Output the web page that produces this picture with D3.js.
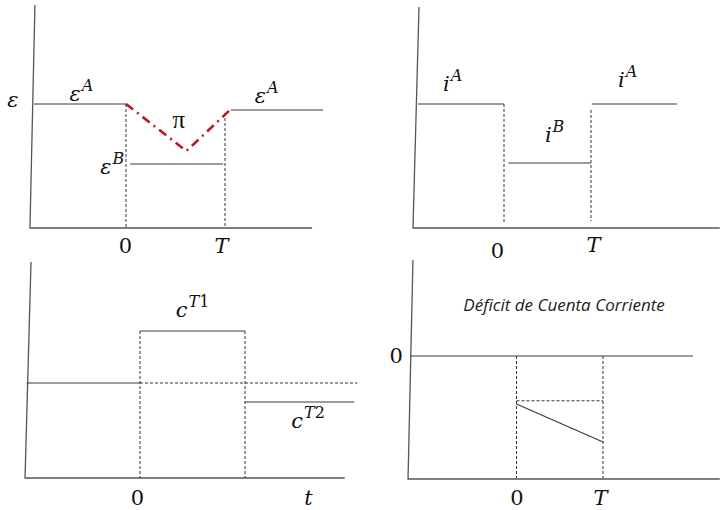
<!DOCTYPE html>
<html>
<head>
<meta charset="utf-8">
<script src="https://cdn.jsdelivr.net/npm/d3@7"></script>
<style>
  body { margin: 0; background: #fff; }
  svg { display: block; }
  .ax { fill: none; stroke: #555; stroke-width: 1.3; }
  .lvl { fill: none; stroke: #3a3a3a; stroke-width: 1.2; }
  .guide { fill: none; stroke: #333; stroke-width: 1; stroke-dasharray: 3,2; }
  .pi { fill: none; stroke: #be1622; stroke-width: 2.6; stroke-dasharray: 9,5,2,5; }
  .math { font-family: "DejaVu Serif", serif; font-style: italic; font-size: 21px; fill: #111; }
  .num { font-family: "DejaVu Serif", serif; font-style: normal; font-size: 21px; fill: #111; }
  .big { font-family: "Liberation Serif", serif; font-size: 25px; }
  .sup { font-size: 16px; }
  .title { font-family: "Open Sans", sans-serif; font-style: italic; font-size: 17px; fill: #222; }
</style>
</head>
<body>
<svg id="chart" width="720" height="510"></svg>
<script>
// all values are [t, level]; t = 0 is the shock, t = 1 is T

// tipo de cambio real
const epsAxes = [[-0.92, 11.15], [-0.97, 0], [1.88, 0]];
const epsLeft = [[-0.93, 6.2], [0, 6.2]];
const epsRight = [[1.06, 5.9], [1.99, 5.9]];
const epsB = [[0.04, 3.2], [0.98, 3.2]];
const piPath = [[0, 6.2], [0.61, 3.85], [1.05, 5.9]];
const epsGuides = [[[0, 6.2], [0, 0]], [[1, 5.75], [1, 0]]];
const epsTicks = [0, 1];
const epsTickLabels = ["0", "T"];

// tasa de interes
const iAxes = [[-0.977, 11.05], [-1.046, 0], [2.48, 0]];
const iLeft = [[-0.99, 6.2], [0, 6.2]];
const iB = [[0.05, 3.25], [1, 3.25]];
const iRight = [[1.01, 6.2], [1.99, 6.2]];
const iGuides = [[[0, 6.2], [0, 0.25]], [[1, 5.9], [1, 0.35]]];
const iTicks = [0, 1];
const iTickLabels = ["0", "T"];

// consumo de transables
const cAxes = [[-1.038, 10.8], [-1.095, 0], [1.95, 0]];
const cBase = [[-1.08, 4.75], [0, 4.75]];
const cBaseDashed = [[0, 4.75], [2.07, 4.75]];
const cT1 = [[0, 7.35], [1, 7.35]];
const cT2 = [[1, 3.8], [2.04, 3.8]];
const cGuides = [[[0, 7.35], [0, 0]], [[1, 7.35], [1, 0]]];
const cTicks = [0, 1.6];
const cTickLabels = ["0", "t"];

// deficit de cuenta corriente
const caAxes = [[-1.197, 4.8], [-1.254, -6.15], [2.35, -6.15]];
const caZero = [[-1.23, 0], [2.04, 0]];
const caDashed = [[0, -2.24], [1, -2.24]];
const caPath = [[0, -2.4], [1, -4.3]];
const caGuides = [[[0, 0], [0, -6.1]], [[1, 0], [1, -6.1]]];
const caTicks = [0, 1];
const caTickLabels = ["0", "T"];

const svg = d3.select("#chart");

function scales(xr, yr) {
    return {
        x: d3.scaleLinear().domain([0, 1]).range(xr),
        y: d3.scaleLinear().domain([0, 1]).range(yr)
    };
}

var sEps = scales([126, 225], [228, 208]);
var sI = scales([504, 591], [228, 208]);
var sC = scales([140, 245], [478, 458]);
var sCa = scales([516.5, 603], [356, 336]);

function draw(s, data, cls) {
    var line = d3.line().x(function(d) { return s.x(d[0]); }).y(function(d) { return s.y(d[1]); });
    svg.append("path").attr("class", cls).attr("d", line(data));
}

function label(s, t, v, base, sup, cls) {
    var txt = svg.append("text")
        .attr("class", cls || "math")
        .attr("x", s.x(t))
        .attr("y", s.y(v));
    txt.append("tspan").text(base);
    if (sup) {
        var sp = txt.append("tspan").attr("class", "sup").attr("dx", 1).attr("dy", -10);
        sup.forEach(function(p) {
            sp.append("tspan").attr("font-style", p.upright ? "normal" : null).text(p.text);
        });
    }
}

function bottomTicks(s, values, labels, axisV, dy, dx) {
    var g = svg.append("g")
        .attr("transform", "translate(0," + s.y(axisV) + ")")
        .call(d3.axisBottom(s.x).tickValues(values).tickSize(0)
            .tickFormat(function(d, i) { return labels[i]; }));
    g.select(".domain").remove();
    g.selectAll("text")
        .attr("class", function(d, i) { return labels[i] === "0" ? "num" : "math"; })
        .attr("dy", null)
        .attr("y", function(d, i) { return dy[i]; })
        .attr("dx", function(d, i) { return dx[i]; });
}

// panel 1
draw(sEps, epsAxes, "ax");
epsGuides.forEach(function(g) { draw(sEps, g, "guide"); });
draw(sEps, epsLeft, "lvl");
draw(sEps, epsRight, "lvl");
draw(sEps, epsB, "lvl");
draw(sEps, piPath, "pi");
label(sEps, -1.2, 6.05, "ε");
label(sEps, -0.57, 6.35, "ε", [{text: "A"}]);
label(sEps, 1.3, 6.25, "ε", [{text: "A"}]);
label(sEps, -0.26, 2.7, "ε", [{text: "B"}]);
label(sEps, 0.47, 5.0, "π", null, "num big");
bottomTicks(sEps, epsTicks, epsTickLabels, 0, [25, 25], [-1, -4]);

// panel 2
draw(sI, iAxes, "ax");
iGuides.forEach(function(g) { draw(sI, g, "guide"); });
draw(sI, iLeft, "lvl");
draw(sI, iB, "lvl");
draw(sI, iRight, "lvl");
label(sI, -0.7, 6.85, "i", [{text: "A"}]);
label(sI, 0.47, 4.3, "i", [{text: "B"}]);
label(sI, 1.31, 7.05, "i", [{text: "A"}]);
bottomTicks(sI, iTicks, iTickLabels, 0, [30, 24], [-7, 2]);

// panel 3
draw(sC, cAxes, "ax");
cGuides.forEach(function(g) { draw(sC, g, "guide"); });
draw(sC, cBaseDashed, "guide");
draw(sC, cBase, "lvl");
draw(sC, cT1, "lvl");
draw(sC, cT2, "lvl");
label(sC, 0.34, 8.05, "c", [{text: "T"}, {text: "1", upright: true}]);
label(sC, 1.44, 2.5, "c", [{text: "T"}, {text: "2", upright: true}]);
bottomTicks(sC, cTicks, cTickLabels, 0, [27, 27], [-3, 0]);

// panel 4
draw(sCa, caAxes, "ax");
caGuides.forEach(function(g) { draw(sCa, g, "guide"); });
draw(sCa, caDashed, "guide");
draw(sCa, caZero, "lvl");
draw(sCa, caPath, "lvl");
svg.append("text")
    .attr("class", "title")
    .attr("text-anchor", "middle")
    .attr("x", sCa.x(0.55))
    .attr("y", sCa.y(2.25))
    .text("Déficit de Cuenta Corriente");
bottomTicks(sCa, caTicks, caTickLabels, -6.15, [26, 26], [0, -3]);

var yg = svg.append("g")
    .attr("transform", "translate(" + sCa.x(-1.21) + ",0)")
    .call(d3.axisLeft(sCa.y).tickValues([0]).tickSize(0).tickPadding(9).tickFormat(d3.format("d")));
yg.select(".domain").remove();
yg.selectAll("text").attr("class", "num").attr("dy", "0.3em");
</script>
</body>
</html>
